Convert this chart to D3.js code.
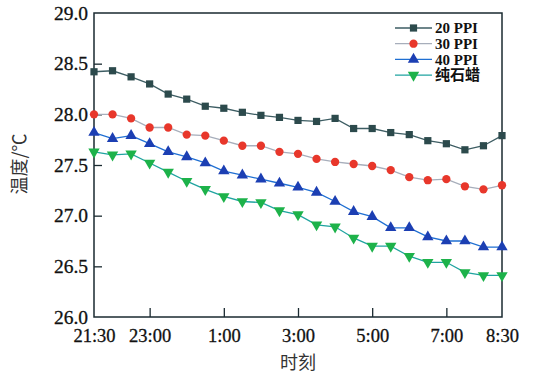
<!DOCTYPE html>
<html>
<head>
<meta charset="utf-8">
<script src="https://cdn.jsdelivr.net/npm/d3@7"></script>
<style>
  body { margin: 0; background: #fff; }
  svg { display: block; }
</style>
</head>
<body>
<svg id="chart"></svg>
<script>
// measurement times (every half hour, overnight)
const times = ['21:30', '22:00', '22:30', '23:00', '23:30', '0:00', '0:30', '1:00', '1:30', '2:00', '2:30', '3:00',
  '3:30', '4:00', '4:30', '5:00', '5:30', '6:00', '6:30', '7:00', '7:30', '8:00', '8:30'];

// temperatures
const ppi20 = [28.42, 28.43, 28.37, 28.30, 28.20, 28.15, 28.08, 28.06, 28.02, 27.99, 27.97, 27.94,
  27.93, 27.96, 27.86, 27.86, 27.82, 27.80, 27.74, 27.71, 27.65, 27.69, 27.79];
const ppi30 = [28.00, 28.00, 27.96, 27.87, 27.87, 27.80, 27.79, 27.74, 27.69, 27.69, 27.63, 27.61,
  27.56, 27.53, 27.51, 27.49, 27.45, 27.38, 27.35, 27.36, 27.29, 27.26, 27.30];
const ppi40 = [27.82, 27.76, 27.79, 27.71, 27.63, 27.58, 27.52, 27.44, 27.40, 27.36, 27.32, 27.28,
  27.23, 27.14, 27.04, 26.99, 26.88, 26.88, 26.79, 26.75, 26.75, 26.69, 26.69];
const paraffin = [27.63, 27.60, 27.61, 27.52, 27.43, 27.34, 27.26, 27.19, 27.14, 27.13, 27.05, 27.01,
  26.91, 26.89, 26.78, 26.70, 26.70, 26.60, 26.54, 26.54, 26.44, 26.41, 26.41];

const seriesNames = ['20 PPI', '30 PPI', '40 PPI', '纯石蜡'];
const xTickLabels = ['21:30', '23:00', '1:00', '3:00', '5:00', '7:00', '8:30'];
const yTicks = [26.0, 26.5, 27.0, 27.5, 28.0, 28.5, 29.0];

// settings
const config = {
  width: 533,
  height: 378,
  margin: { left: 94, right: 31, top: 13, bottom: 61 },
};

const styles = [
  { line: '#3d5d63', fill: '#2c4a4c', symbol: d3.symbolSquare, size: 52, rotate: 0 },
  { line: '#a7aebb', fill: '#e8372b', symbol: d3.symbolCircle, size: 54, rotate: 0 },
  { line: '#1f6fd2', fill: '#1c3fb3', symbol: d3.symbolTriangle, size: 56, rotate: 0 },
  { line: '#1fa3a0', fill: '#1db24a', symbol: d3.symbolTriangle, size: 56, rotate: 180 },
];

// turn "h:mm" into a date on an overnight timeline
function toDate(label) {
  const [h, m] = label.split(':').map(Number);
  const day = h >= 12 ? 1 : 2;
  return new Date(2000, 0, day, h, m);
}

const series = [ppi20, ppi30, ppi40, paraffin].map((values, i) => ({
  name: seriesNames[i],
  style: styles[i],
  points: values.map((v, j) => ({ t: toDate(times[j]), v: v })),
}));

const innerW = config.width - config.margin.left - config.margin.right;
const innerH = config.height - config.margin.top - config.margin.bottom;

const scaleX = d3.scaleTime()
  .domain([toDate('21:30'), toDate('8:30')])
  .range([0, innerW]);

const scaleY = d3.scaleLinear()
  .domain([26, 29])
  .range([innerH, 0]);

const svg = d3.select('#chart')
  .attr('width', config.width)
  .attr('height', config.height);

const chart = svg.append('g')
  .attr('transform', `translate(${config.margin.left}, ${config.margin.top})`);

const font = '"Liberation Serif", "Times New Roman", serif';
const cjkFont = '"Liberation Serif", "Noto Sans CJK SC", serif';

// axes
const xAxis = d3.axisBottom(scaleX)
  .tickValues(xTickLabels.map(toDate))
  .tickFormat((d, i) => xTickLabels[i])
  .tickSizeInner(-9)
  .tickSizeOuter(0)
  .tickPadding(8);

const yAxis = d3.axisLeft(scaleY)
  .tickValues(yTicks)
  .tickFormat(d3.format('.1f'))
  .tickSizeInner(-8)
  .tickSizeOuter(0)
  .tickPadding(6);

chart.append('g')
  .attr('transform', `translate(0, ${innerH})`)
  .call(xAxis)
  .call(g => g.select('.domain').remove())
  .call(g => g.selectAll('.tick line').attr('stroke', '#1a2a30').attr('stroke-width', 1.3))
  .call(g => g.selectAll('.tick').filter((d, i) => i === 0 || i === xTickLabels.length - 1).select('line').remove())
  .call(g => g.selectAll('text')
    .attr('font-family', font)
    .attr('font-size', 18.5)
    .attr('fill', '#111')
    .attr('stroke', '#111')
    .attr('stroke-width', 0.3)
    .attr('dy', '0.9em'));

chart.append('g')
  .call(yAxis)
  .call(g => g.select('.domain').remove())
  .call(g => g.selectAll('.tick line').attr('stroke', '#1a2a30').attr('stroke-width', 1.3))
  .call(g => g.selectAll('.tick').filter((d, i) => i === 0 || i === yTicks.length - 1).select('line').remove())
  .call(g => g.selectAll('text')
    .attr('font-family', font)
    .attr('font-size', 19.5)
    .attr('fill', '#111')
    .attr('stroke', '#111')
    .attr('stroke-width', 0.3));

// frame
chart.append('rect')
  .attr('width', innerW)
  .attr('height', innerH)
  .attr('fill', 'none')
  .attr('stroke', '#1a2a30')
  .attr('stroke-width', 1.5);

// lines and markers
const line = d3.line()
  .x(d => scaleX(d.t))
  .y(d => scaleY(d.v));

const groups = chart.selectAll('.series')
  .data(series)
  .enter().append('g')
  .attr('class', 'series');

groups.append('path')
  .attr('d', d => line(d.points))
  .attr('fill', 'none')
  .attr('stroke', d => d.style.line)
  .attr('stroke-width', 1.3);

groups.each(function (s) {
  d3.select(this).selectAll('path.marker')
    .data(s.points)
    .enter().append('path')
    .attr('class', 'marker')
    .attr('d', d3.symbol().type(s.style.symbol).size(s.style.size))
    .attr('transform', d => `translate(${scaleX(d.t)}, ${scaleY(d.v)}) rotate(${s.style.rotate})`)
    .attr('fill', s.style.fill);
});

// legend
const legend = chart.append('g')
  .attr('transform', `translate(${395 - config.margin.left}, ${28 - config.margin.top})`);

const legendRows = legend.selectAll('.row')
  .data(series)
  .enter().append('g')
  .attr('class', 'row')
  .attr('transform', (d, i) => `translate(0, ${i * 15.7})`);

legendRows.append('line')
  .attr('x1', 0)
  .attr('x2', 37)
  .attr('stroke', d => d.style.line)
  .attr('stroke-width', 1.3);

legendRows.append('path')
  .attr('d', d => d3.symbol().type(d.style.symbol).size(d.style.size)())
  .attr('transform', d => `translate(18.5, 0) rotate(${d.style.rotate})`)
  .attr('fill', d => d.style.fill);

legendRows.append('text')
  .text(d => d.name)
  .attr('x', 40)
  .attr('dy', '0.35em')
  .attr('font-family', cjkFont)
  .attr('font-weight', 'bold')
  .attr('font-size', 15)
  .attr('fill', '#111');

// axis titles
svg.append('text')
  .text('时刻')
  .attr('x', config.margin.left + innerW / 2)
  .attr('y', 363)
  .attr('text-anchor', 'middle')
  .attr('dy', '0.35em')
  .attr('font-family', '"Noto Sans CJK SC", sans-serif')
  .attr('font-size', 18)
  .attr('fill', '#333');

svg.append('text')
  .text('温度/℃')
  .attr('transform', 'translate(20, 164) rotate(-90)')
  .attr('text-anchor', 'middle')
  .attr('dy', '0.35em')
  .attr('font-family', '"Noto Sans CJK SC", sans-serif')
  .attr('font-size', 18)
  .attr('fill', '#333');
</script>
</body>
</html>
